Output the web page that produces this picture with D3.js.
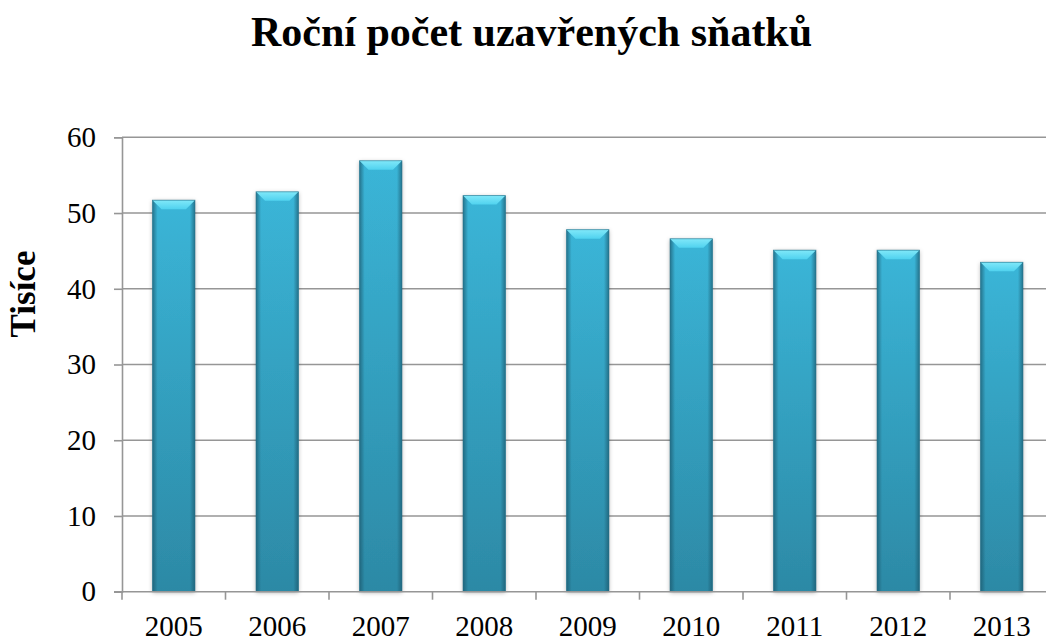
<!DOCTYPE html>
<html>
<head>
<meta charset="utf-8">
<script src="https://cdn.jsdelivr.net/npm/d3@7"></script>
<style>
  body { margin: 0; background: #fff; }
  svg { display: block; font-family: "Liberation Serif", "Times New Roman", serif; }
</style>
</head>
<body>
<div id="chart"></div>
<script>
const width = 1046;
const height = 642;

const years = ['2005', '2006', '2007', '2008', '2009', '2010', '2011', '2012', '2013'];
const marriages = [51.7, 52.8, 56.9, 52.3, 47.8, 46.6, 45.1, 45.1, 43.5];
const yTicks = [0, 10, 20, 30, 40, 50, 60];

const plotL = 122, plotR = 1053.5, plotT = 137.3, plotB = 591.7;

const svg = d3.select('#chart')
  .append('svg')
  .attr('width', width)
  .attr('height', height);

const defs = svg.append('defs');

const vGrad = defs.append('linearGradient')
  .attr('id', 'barV').attr('x1', 0).attr('y1', 0).attr('x2', 0).attr('y2', 1);
vGrad.append('stop').attr('offset', '0%').attr('stop-color', '#3ec0e4');
vGrad.append('stop').attr('offset', '100%').attr('stop-color', '#2e8fac');

const hGrad = defs.append('linearGradient')
  .attr('id', 'barH').attr('x1', 0).attr('y1', 0).attr('x2', 1).attr('y2', 0);
hGrad.append('stop').attr('offset', '0%').attr('stop-color', '#1a5468').attr('stop-opacity', 0.7);
hGrad.append('stop').attr('offset', '12%').attr('stop-color', '#1a5468').attr('stop-opacity', 0.1);
hGrad.append('stop').attr('offset', '88%').attr('stop-color', '#1a5468').attr('stop-opacity', 0.1);
hGrad.append('stop').attr('offset', '100%').attr('stop-color', '#1a5468').attr('stop-opacity', 0.7);

const topGrad = defs.append('linearGradient')
  .attr('id', 'barTop').attr('x1', 0).attr('y1', 0).attr('x2', 0).attr('y2', 1);
topGrad.append('stop').attr('offset', '0%').attr('stop-color', '#80e8f9');
topGrad.append('stop').attr('offset', '100%').attr('stop-color', '#50d2ef');

const shadow = defs.append('filter')
  .attr('id', 'shadow').attr('x', '-20%').attr('y', '-5%').attr('width', '140%').attr('height', '110%');
shadow.append('feDropShadow')
  .attr('dx', 0).attr('dy', 1).attr('stdDeviation', 2)
  .attr('flood-color', '#000').attr('flood-opacity', 0.3);

const x = d3.scaleBand()
  .domain(years)
  .range([plotL, plotR])
  .paddingInner(0.59)
  .paddingOuter(0.295);

const xCat = d3.scaleBand()
  .domain(years)
  .range([plotL, plotR])
  .padding(0);

const y = d3.scaleLinear()
  .domain([0, 60])
  .range([plotB, plotT]);

// gridlines
svg.append('g')
  .selectAll('line').data(yTicks.slice(1))
  .enter().append('line')
  .attr('x1', plotL).attr('x2', plotR)
  .attr('y1', d => y(d)).attr('y2', d => y(d))
  .attr('stroke', '#969696').attr('stroke-width', 1.6);

// bars
const bars = svg.append('g').selectAll('g').data(years)
  .enter().append('g');

bars.append('rect')
  .attr('x', d => x(d))
  .attr('y', (d, i) => y(marriages[i]))
  .attr('width', x.bandwidth())
  .attr('height', (d, i) => plotB - y(marriages[i]))
  .attr('fill', 'url(#barV)')
  .attr('filter', 'url(#shadow)');

bars.append('rect')
  .attr('x', d => x(d))
  .attr('y', (d, i) => y(marriages[i]))
  .attr('width', x.bandwidth())
  .attr('height', (d, i) => plotB - y(marriages[i]))
  .attr('fill', 'url(#barH)');

const bev = 9;
bars.append('path')
  .attr('d', (d, i) => {
    const x0 = x(d), x1 = x(d) + x.bandwidth(), t = y(marriages[i]);
    return `M${x0},${t}L${x1},${t}L${x1 - bev},${t + bev}L${x0 + bev},${t + bev}Z`;
  })
  .attr('fill', 'url(#barTop)');

bars.append('rect')
  .attr('x', d => x(d))
  .attr('y', (d, i) => y(marriages[i]))
  .attr('width', x.bandwidth())
  .attr('height', (d, i) => plotB - y(marriages[i]))
  .attr('fill', 'none')
  .attr('stroke', '#246f88').attr('stroke-width', 0.8).attr('stroke-opacity', 0.7);

// y axis
const yAxis = d3.axisLeft(y).tickValues(yTicks).tickSize(8).tickPadding(18);
const yG = svg.append('g')
  .attr('transform', `translate(${plotL},0)`)
  .call(yAxis);
yG.select('.domain').attr('stroke', '#969696').attr('stroke-width', 1.6);
yG.selectAll('.tick line').attr('stroke', '#969696').attr('stroke-width', 1.6);
yG.selectAll('.tick text')
  .attr('font-family', '"Liberation Serif", serif')
  .attr('font-size', 29).attr('fill', '#000');

// x axis
svg.append('line')
  .attr('x1', plotL - 8).attr('x2', plotR)
  .attr('y1', plotB).attr('y2', plotB)
  .attr('stroke', '#969696').attr('stroke-width', 1.6);

svg.append('g').selectAll('line')
  .data(years.concat(['end']))
  .enter().append('line')
  .attr('x1', d => d === 'end' ? plotR : xCat(d))
  .attr('x2', d => d === 'end' ? plotR : xCat(d))
  .attr('y1', plotB).attr('y2', plotB + 8)
  .attr('stroke', '#969696').attr('stroke-width', 1.6);

svg.append('g').selectAll('text').data(years)
  .enter().append('text')
  .attr('x', d => xCat(d) + xCat.bandwidth() / 2)
  .attr('y', 636)
  .attr('text-anchor', 'middle')
  .attr('font-size', 29)
  .text(d => d);

// y label
svg.append('text')
  .attr('transform', 'translate(35,294) rotate(-90)')
  .attr('text-anchor', 'middle')
  .attr('font-size', 35)
  .attr('font-weight', 'bold')
  .text('Tisíce');

// title
svg.append('text')
  .attr('x', 531.5)
  .attr('y', 46)
  .attr('text-anchor', 'middle')
  .attr('font-size', 42)
  .attr('font-weight', 'bold')
  .text('Roční počet uzavřených sňatků');
</script>
</body>
</html>
